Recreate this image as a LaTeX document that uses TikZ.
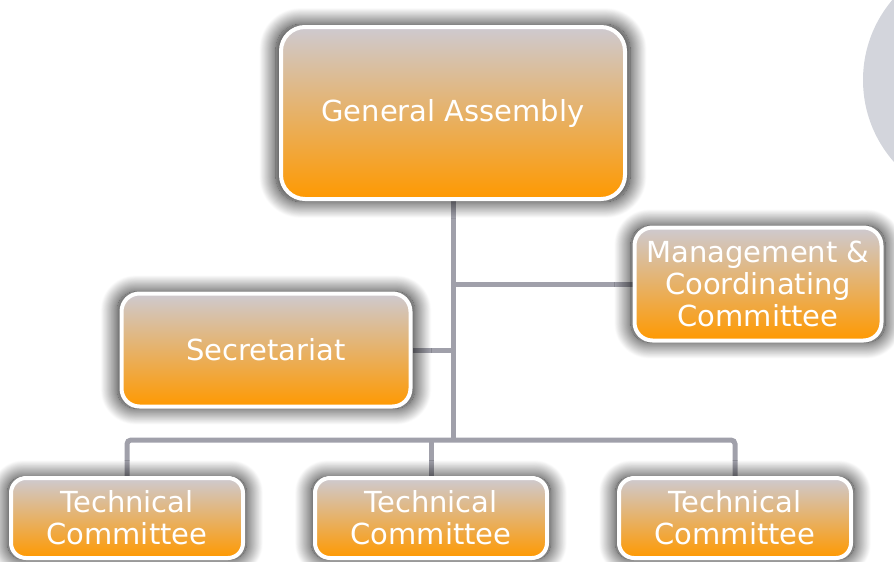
\documentclass[tikz,border=0pt]{standalone}
\usepackage{fontspec}
\setmainfont{DejaVu Sans}
\usepackage{tikz}
\usetikzlibrary{positioning, calc, shadows.blur}
\pgfdeclarelayer{background}
\pgfsetlayers{background,main}
\definecolor{boxtop}{RGB}{206,202,208}
\definecolor{boxbottom}{RGB}{255,153,0}
\definecolor{wiregray}{RGB}{160,160,170}
\definecolor{discgray}{RGB}{211,213,220}
\tikzstyle{orgbox} =
[
	draw=white, line width=4pt, inner sep=0pt,
	align=center, text=white, top color=boxtop, bottom color=boxbottom,
	font=\fontsize{29}{32}\selectfont,
	blur shadow={shadow xshift=0pt, shadow yshift=0pt, shadow blur steps=24,
		shadow blur radius=16pt, shadow scale=1.03, shadow opacity=95}
]
\tikzstyle{committee} =
[
	orgbox, minimum width=232pt, minimum height=80pt, rounded corners=15pt
]
\tikzstyle{wire} = [draw=wiregray, line width=5pt]

\begin{document}
\begin{tikzpicture}[x=1pt, y=-1pt]
\useasboundingbox (0,0) rectangle (894,562);

\node[orgbox, minimum width=344pt, minimum height=172pt, rounded corners=24pt] (GA) at (453,113) {General Assembly};
\node[orgbox, minimum width=247pt, minimum height=113pt, rounded corners=18pt] (MC) at (758,284) {Management \&\\Coordinating\\Committee};
\node[orgbox, minimum width=289pt, minimum height=113pt, rounded corners=18pt] (SEC) at (266,350) {Secretariat};

\node[committee] (TC1) at (127,518) {Technical\\Committee};
\node[committee] (TC2) [right=68pt of TC1] {Technical\\Committee};
\node[committee] (TC3) [right=68pt of TC2] {Technical\\Committee};

\begin{pgfonlayer}{background}
\fill[discgray] (987,80) circle (124pt);
\coordinate (bus) at (453,440);
\draw[wire] (GA.south) -- (bus);
\draw[wire] (GA.south |- MC.west) -- (MC.west);
\draw[wire] (SEC.east) -- (SEC.east -| GA.south);
\draw[wire, rounded corners=4pt] (TC1.north) |- (bus) -| (TC3.north);
\draw[wire] (TC2.north |- bus) -- (TC2.north);
\end{pgfonlayer}

\end{tikzpicture}
\end{document}
